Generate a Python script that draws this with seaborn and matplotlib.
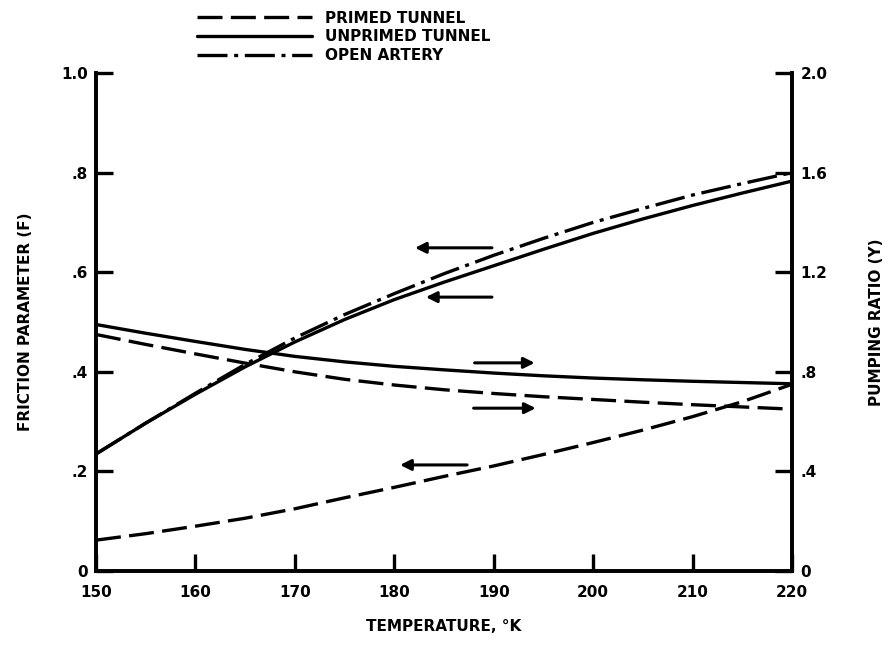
import matplotlib

matplotlib.use("Agg")

import matplotlib.pyplot as plt
import pandas as pd
import seaborn as sns
from matplotlib.lines import Line2D

# temperature grid, deg K
temperature = [150, 155, 160, 165, 170, 175, 180, 185, 190, 195, 200, 205, 210, 215, 220]

# friction parameter F (left axis)
f_primed = [0.062, 0.075, 0.09, 0.106, 0.125, 0.147, 0.168, 0.19, 0.211, 0.234, 0.258, 0.283, 0.31, 0.34, 0.375]
f_unprimed = [0.235, 0.297, 0.355, 0.41, 0.46, 0.505, 0.545, 0.58, 0.613, 0.646, 0.678, 0.707, 0.734, 0.759, 0.783]
f_open = [0.235, 0.297, 0.357, 0.415, 0.468, 0.515, 0.557, 0.597, 0.634, 0.668, 0.70, 0.728, 0.755, 0.778, 0.80]

# pumping ratio Y (right axis)
y_primed = [0.95, 0.91, 0.872, 0.835, 0.8, 0.77, 0.747, 0.728, 0.713, 0.70, 0.689, 0.678, 0.668, 0.659, 0.65]
y_unprimed = [0.99, 0.955, 0.922, 0.89, 0.862, 0.84, 0.822, 0.808, 0.795, 0.784, 0.775, 0.768, 0.762, 0.757, 0.752]

left_ticks = [0, 0.2, 0.4, 0.6, 0.8, 1.0]
left_labels = ["0", ".2", ".4", ".6", ".8", "1.0"]
right_ticks = [0, 0.4, 0.8, 1.2, 1.6, 2.0]
right_labels = ["0", ".4", ".8", "1.2", "1.6", "2.0"]
x_ticks = [150, 160, 170, 180, 190, 200, 210, 220]

legend_labels = ["PRIMED TUNNEL", "UNPRIMED TUNNEL", "OPEN ARTERY"]

# direction arrows: (tail T, head T, value on left axis)
arrows = [
    (190.1, 181.8, 0.649),
    (190.1, 182.9, 0.55),
    (187.8, 194.4, 0.418),
    (187.7, 194.5, 0.327),
    (187.6, 180.3, 0.213),
]

DASH = (7.5, 2.5)
DASHDOT = (9, 2, 1.2, 2)
LW = 2.4

sns.set_style("ticks", {"axes.edgecolor": "black", "text.color": "black",
                        "xtick.color": "black", "ytick.color": "black",
                        "axes.labelcolor": "black"})
plt.rcParams["font.family"] = ["DejaVu Sans"]
plt.rcParams["font.weight"] = "bold"

fig = plt.figure(figsize=(8.94, 6.48), dpi=100)
ax = fig.add_axes([0.1074, 0.1188, 0.7785, 0.7685])
ax2 = ax.twinx()

friction = pd.DataFrame({"T": temperature, "primed": f_primed, "unprimed": f_unprimed, "open": f_open})
pumping = pd.DataFrame({"T": temperature, "primed": y_primed, "unprimed": y_unprimed})

sns.lineplot(data=friction, x="T", y="primed", ax=ax, color="black", lw=LW).lines[-1].set_dashes(DASH)
sns.lineplot(data=friction, x="T", y="unprimed", ax=ax, color="black", lw=LW)
sns.lineplot(data=friction, x="T", y="open", ax=ax, color="black", lw=LW).lines[-1].set_dashes(DASHDOT)
sns.lineplot(data=pumping, x="T", y="primed", ax=ax2, color="black", lw=LW).lines[-1].set_dashes(DASH)
sns.lineplot(data=pumping, x="T", y="unprimed", ax=ax2, color="black", lw=LW)

for tail, head, val in arrows:
    ax.annotate("", xy=(head, val), xytext=(tail, val),
                arrowprops=dict(arrowstyle="-|>", lw=2.2, color="black", mutation_scale=16))

ax.set_xlim(150, 220)
ax.set_ylim(0, 1.0)
ax2.set_ylim(0, 2.0)

ax.set_xticks(x_ticks)
ax.set_xticklabels([str(t) for t in x_ticks])
ax.set_yticks(left_ticks)
ax.set_yticklabels(left_labels)
ax2.set_yticks(right_ticks)
ax2.set_yticklabels(right_labels)

for a in (ax, ax2):
    a.spines["top"].set_visible(False)
    for s in a.spines.values():
        s.set_linewidth(2.6)
        s.set_color("black")
    a.tick_params(direction="in", length=12, width=2.4, labelsize=11, pad=6,
                  colors="black")
ax.tick_params(axis="x", pad=10)

ax.set_xlabel("TEMPERATURE, \u00b0K", fontsize=11, fontweight="bold", labelpad=14)
ax.set_ylabel("FRICTION PARAMETER (F)", fontsize=11, fontweight="bold", labelpad=20)
ax2.set_ylabel("PUMPING RATIO (Y)", fontsize=11, fontweight="bold", labelpad=30)

handles = [
    Line2D([], [], color="black", lw=LW, dashes=DASH),
    Line2D([], [], color="black", lw=LW),
    Line2D([], [], color="black", lw=LW, dashes=DASHDOT),
]
fig.legend(handles, legend_labels, loc="upper left", bbox_to_anchor=(0.205, 1.005),
           frameon=False, handlelength=7.5, handletextpad=0.9, labelspacing=0.25,
           prop={"size": 11, "weight": "bold"})

fig.savefig("out.png", dpi=100)
plt.close(fig)
